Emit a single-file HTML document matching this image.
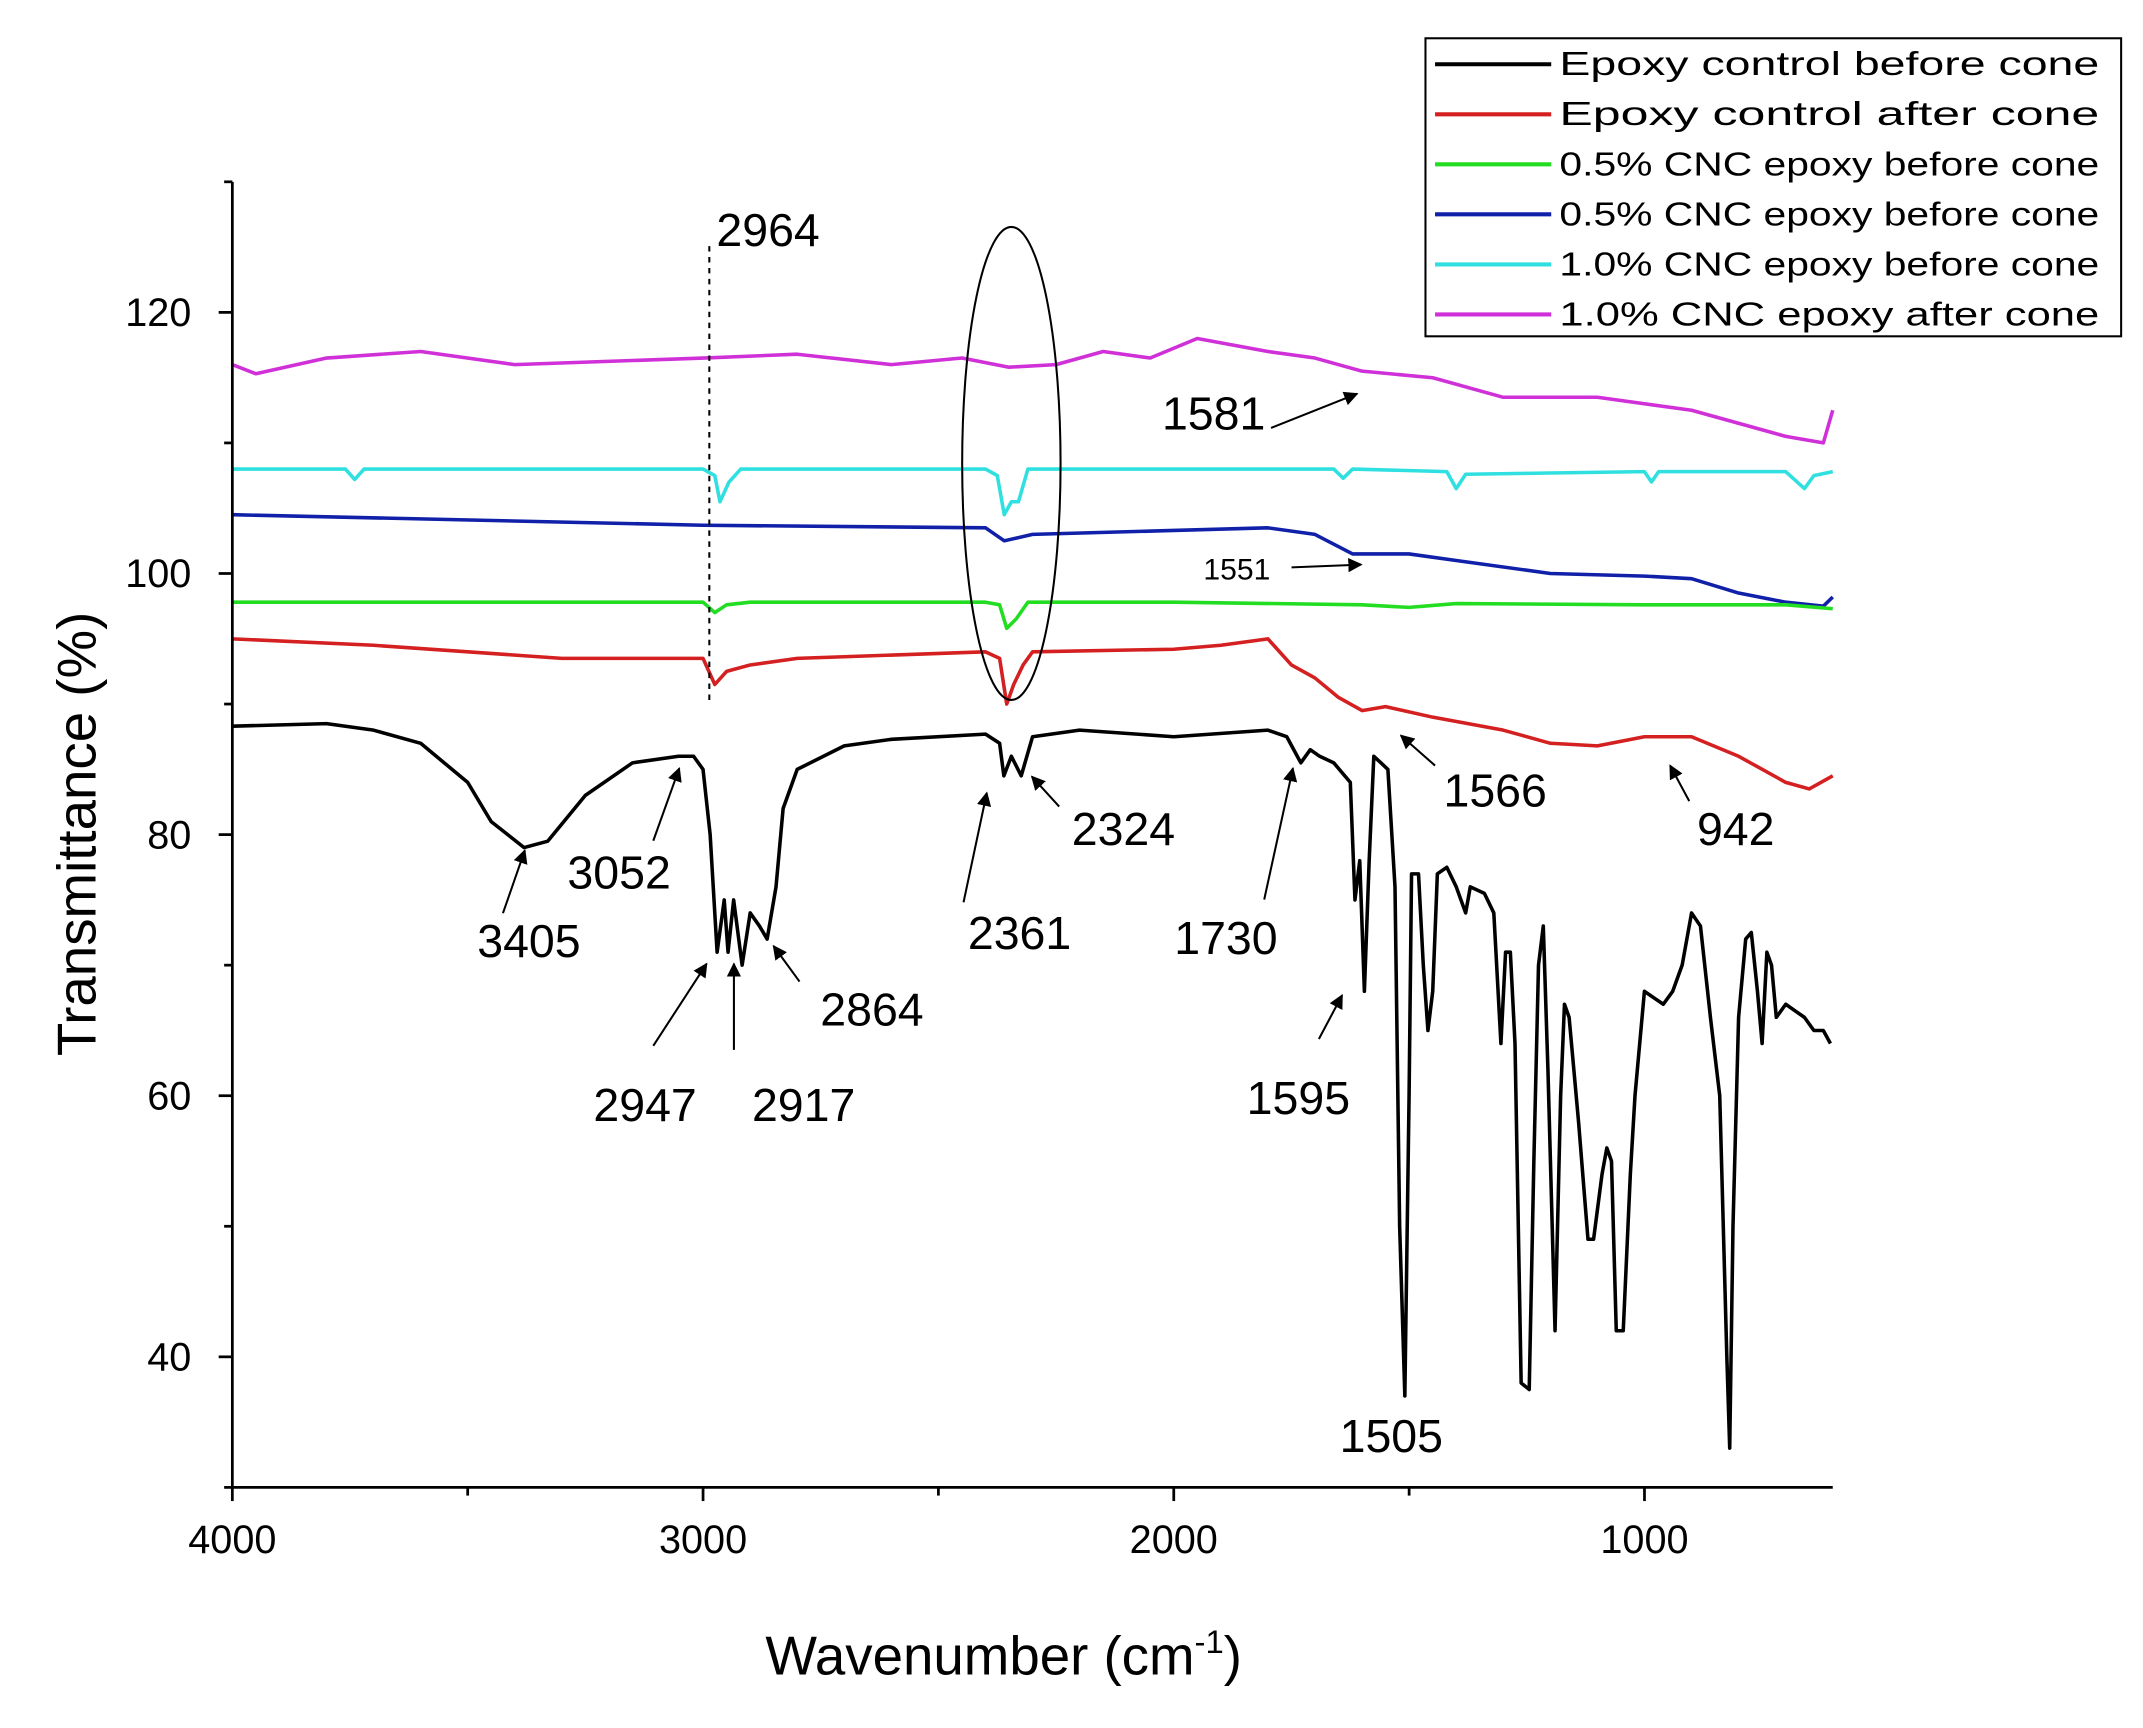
<!DOCTYPE html>
<html><head><meta charset="utf-8"><style>
html,body{margin:0;padding:0;background:#fff}
svg{display:block;font-family:"Liberation Sans",sans-serif}
</style></head><body>
<svg id="chart" width="2143" height="1728" viewBox="0 0 1568 1264" preserveAspectRatio="none" xmlns="http://www.w3.org/2000/svg">
<defs><marker id="ah" viewBox="0 0 10 10" refX="9" refY="5" markerWidth="7" markerHeight="7" orient="auto"><path d="M0,0 L10,5 L0,10 z" fill="#000"/></marker></defs>
<g id="plot"></g>
<g id="axes"></g>
<g id="ann"></g>
<g id="legend"></g>
</svg>
<script>
const xTicks=[4000,3000,2000,1000];
const yTicks=[40,60,80,100,120];
const seriesNames=["Epoxy control before cone","Epoxy control after cone","0.5% CNC epoxy before cone","0.5% CNC epoxy before cone","1.0% CNC epoxy before cone","1.0% CNC epoxy after cone"];
const seriesColors=["#000000","#d42020","#22dd22","#1020a8","#30e0e0","#d030d8"];
const blackX=[4000,3800,3700,3600,3500,3450,3380,3330,3250,3150,3052,3020,3000,2985,2970,2955,2947,2935,2917,2900,2880,2864,2845,2830,2800,2700,2600,2400,2370,2361,2345,2324,2300,2200,2000,1800,1760,1730,1710,1690,1660,1625,1615,1605,1595,1585,1575,1560,1545,1530,1520,1509,1500,1495,1480,1470,1460,1450,1440,1420,1400,1380,1370,1340,1320,1305,1295,1285,1275,1262,1245,1235,1225,1215,1205,1190,1178,1170,1160,1140,1120,1108,1090,1080,1070,1060,1045,1030,1020,1000,980,960,940,920,900,881,860,840,825,819,812,800,785,773,760,750,740,730,720,700,680,660,640,620,605];
const blackY=[88.3,88.5,88,87,84,81,79,79.5,83,85.5,86,86,85,80,71,75,71,75,70,74,73,72,76,82,85,86.8,87.3,87.7,87,84.5,86,84.5,87.5,88,87.5,88,87.5,85.5,86.5,86,85.5,84,75,78,68,78,86,85.5,85,76,50,37,60,77,77,70,65,68,77,77.5,76,74,76,75.5,74,64,71,71,64,38,37.5,55,70,73,62,42,60,67,66,58,49,49,54,56,55,42,42,54,60,68,67.5,67,68,70,74,73,66,60,40,33,50,66,72,72.5,68,64,71,70,66,67,66.5,66,65,65,64];
const redX=[4000,3700,3500,3300,3000,2975,2950,2900,2800,2400,2370,2355,2340,2320,2300,2000,1900,1800,1750,1700,1650,1600,1550,1450,1300,1200,1100,1000,900,800,700,650,600];
const redY=[95,94.5,94,93.5,93.5,91.5,92.5,93,93.5,94,93.5,90,91.5,93,94,94.2,94.5,95,93,92,90.5,89.5,89.8,89,88,87,86.8,87.5,87.5,86,84,83.5,84.5];
const greenX=[4000,3000,2975,2950,2900,2400,2370,2355,2335,2310,2000,1600,1500,1400,1000,700,600];
const greenY=[97.8,97.8,97,97.6,97.8,97.8,97.6,95.8,96.5,97.8,97.8,97.6,97.4,97.7,97.6,97.6,97.3];
const blueX=[4000,3000,2400,2360,2300,2000,1800,1700,1620,1500,1400,1200,1000,900,800,700,620,600];
const blueY=[104.5,103.7,103.5,102.5,103,103.3,103.5,103,101.5,101.5,101,100,99.8,99.6,98.5,97.8,97.5,98.2];
const cyanX=[4000,3760,3740,3720,3000,2975,2964,2945,2920,2400,2375,2360,2345,2330,2310,2000,1660,1640,1620,1420,1400,1380,1000,985,970,700,660,640,600];
const cyanY=[108,108,107.2,108,108,107.5,105.5,107,108,108,107.5,104.5,105.5,105.5,108,108,108,107.3,108,107.8,106.5,107.6,107.8,107,107.8,107.8,106.5,107.5,107.8];
const magX=[4000,3950,3800,3600,3400,3000,2800,2600,2450,2350,2250,2150,2050,1950,1800,1700,1600,1450,1300,1100,900,700,620,600];
const magY=[116,115.3,116.5,117,116,116.5,116.8,116,116.5,115.8,116,117,116.5,118,117,116.5,115.5,115,113.5,113.5,112.5,110.5,110,112.5];

const X0=170,X1=1341,Y0=133,Y1=1088,XMIN=600,XMAX=4000,YMIN=30,YMAX=130;
const sx=v=>X0+(XMAX-v)/(XMAX-XMIN)*(X1-X0);
const sy=v=>Y1-(v-YMIN)/(YMAX-YMIN)*(Y1-Y0);
const NS="http://www.w3.org/2000/svg";
function mk(tag,attrs,parent,txt){const e=document.createElementNS(NS,tag);for(const k in attrs)e.setAttribute(k,attrs[k]);if(txt!==undefined)e.textContent=txt;parent.appendChild(e);return e;}
const plot=document.getElementById('plot'),axes=document.getElementById('axes'),ann=document.getElementById('ann'),leg=document.getElementById('legend');
const all=[[blackX,blackY],[redX,redY],[greenX,greenY],[blueX,blueY],[cyanX,cyanY],[magX,magY]];
const order=[5,4,3,2,1,0];
order.forEach(i=>{const [xs,ys]=all[i];
 const p=mk('polyline',{points:xs.map((x,j)=>sx(x).toFixed(1)+','+sy(ys[j]).toFixed(1)).join(' '),fill:'none',stroke:seriesColors[i],'stroke-width':2.6,'stroke-linejoin':'round'},plot);
 
 
});
let l=mk('line',{x1:X0,y1:Y0,x2:X0,y2:Y1,stroke:'#000','stroke-width':2},axes);


l=mk('line',{x1:X0,y1:Y1,x2:X1,y2:Y1,stroke:'#000','stroke-width':2},axes);


for(let v=4000;v>=600;v-=500){mk('line',{x1:sx(v),y1:Y1,x2:sx(v),y2:Y1+(v%1000===0?10:6),stroke:'#000','stroke-width':2},axes);}
xTicks.forEach(v=>{const t=mk('text',{x:sx(v),y:Y1+48,'font-size':29,'text-anchor':'middle'},axes,v);
 
 });
for(let v=30;v<=130;v+=10){mk('line',{x1:X0,y1:sy(v),x2:X0-(v%20===0?10:6),y2:sy(v),stroke:'#000','stroke-width':2},axes);}
yTicks.forEach(v=>{const t=mk('text',{x:X0-30,y:sy(v)+10,'font-size':29,'text-anchor':'end'},axes,v);
 
 });
let t=mk('text',{x:560,y:1225,'font-size':40},axes);


mk('tspan',{},t,'Wavenumber (cm');
mk('tspan',{dy:-16,'font-size':24},t,'-1');
mk('tspan',{dy:16},t,')');
t=mk('text',{x:70,y:610,'font-size':40,'text-anchor':'middle',transform:'rotate(-90 70 610)'},axes,'Transmittance (%)');


mk('line',{x1:519,y1:180,x2:519,y2:512,stroke:'#000','stroke-width':1.5,'stroke-dasharray':'4,4'},ann);
mk('ellipse',{cx:740,cy:339,rx:36,ry:173,fill:'none',stroke:'#000','stroke-width':1.5},ann);
const labels=[["2964",562,180,34],["3405",387,700,34],["3052",453,650,34],["2947",472,820,34],["2917",588,820,34],["2864",638,750,34],["2361",746,694,34],["2324",822,618,34],["1730",897,698,34],["1595",950,815,34],["1505",1018,1062,34],["1566",1094,590,34],["942",1270,618,34],["1581",888,314,34],["1551",905,424,22]];
labels.forEach(a=>{const e=mk('text',{x:a[1],y:a[2],'font-size':a[3],'text-anchor':'middle'},ann,a[0]);
 
 });
const arrows=[[368,668,384,622],[478,615,497,562],[478,765,517,705],[537,768,537,705],[585,718,566,692],[705,660,722,580],[775,590,755,568],[925,658,946,562],[965,760,982,728],[1050,560,1025,538],[1236,586,1222,560],[930,313,993,288],[945,415,996,413]];
arrows.forEach(a=>{mk('line',{x1:a[0],y1:a[1],x2:a[2],y2:a[3],stroke:'#000','stroke-width':1.5,'marker-end':'url(#ah)'},ann);});
mk('rect',{x:1043,y:28,width:509,height:218,fill:'#fff',stroke:'#000','stroke-width':1.5},leg);
seriesNames.forEach((n,i)=>{const yy=47+i*36.6;
 mk('line',{x1:1050,y1:yy,x2:1135,y2:yy,stroke:seriesColors[i],'stroke-width':3},leg);
 const e=mk('text',{x:1141,y:yy+8,'font-size':24.5,textLength:395,lengthAdjust:'spacingAndGlyphs'},leg,n);
 
 });
</script>
</body></html>
